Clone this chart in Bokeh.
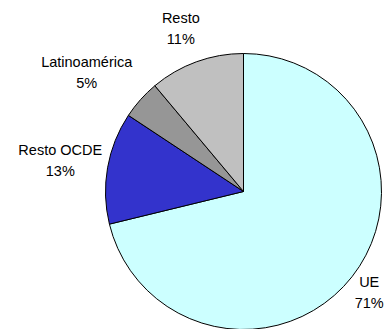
import math
from bokeh.plotting import figure
from bokeh.models import ColumnDataSource
from bokeh.core.properties import value
from bokeh.embed import file_html
from bokeh.resources import INLINE

# Data
categories = ["UE", "Resto OCDE", "Latinoamérica", "Resto"]
shares = [71.2, 13.1, 4.6, 11.1]
colors = ["#CCFFFF", "#3333CC", "#969696", "#C0C0C0"]

# Layout (styles / placement)
W, H = 387, 329
cx, cy, r = 243, 329 - 191, 138
label_radius = [161, 186, 197, 175]
label_nudge_deg = [0.5, 0, -4.5, -1]

total = sum(shares)
starts, ends, names, pcts, lx, ly = [], [], [], [], [], []
acc = 0.0
for i, (c, v) in enumerate(zip(categories, shares)):
    a0 = acc / total * 2 * math.pi
    acc += v
    a1 = acc / total * 2 * math.pi
    # clockwise from 12 o'clock -> bokeh angle (ccw from +x)
    starts.append(math.pi / 2 - a0)
    ends.append(math.pi / 2 - a1)
    mid = (a0 + a1) / 2 + math.radians(label_nudge_deg[i])
    lx.append(cx + label_radius[i] * math.sin(mid))
    ly.append(cy + label_radius[i] * math.cos(mid))
    names.append(c)
    pcts.append(f"{int(v + 0.5)}%")

src = ColumnDataSource(dict(start=starts, end=ends, color=colors,
                            name=names, pct=pcts, lx=lx, ly=ly,
                            x=[cx] * 4, y=[cy] * 4))

p = figure(width=W, height=H, x_range=(0, W), y_range=(0, H),
           output_backend="svg", toolbar_location=None, min_border=0)
p.axis.visible = False
p.grid.visible = False
p.outline_line_color = None
p.background_fill_color = "white"
p.border_fill_color = "white"

p.wedge(x="x", y="y", radius=r, start_angle="start", end_angle="end",
        direction="clock", fill_color="color", line_color="black",
        line_width=1, source=src)

p.text(x="lx", y="ly", text="name", source=src, text_align="center",
       text_baseline="middle", y_offset=-10, text_font=value("Liberation Sans"),
       text_font_size="14.5px", text_color="black")
p.text(x="lx", y="ly", text="pct", source=src, text_align="center",
       text_baseline="middle", y_offset=11, text_font=value("Liberation Sans"),
       text_font_size="14.5px", text_color="black")

open("out.html", "w").write(file_html(p, INLINE))
